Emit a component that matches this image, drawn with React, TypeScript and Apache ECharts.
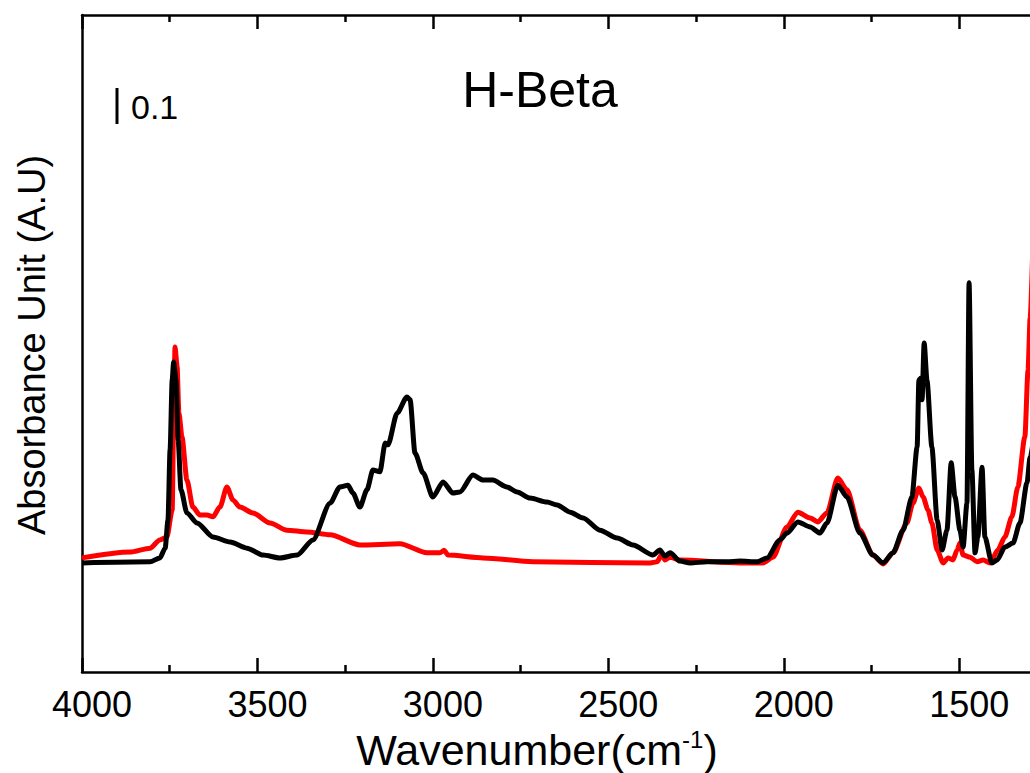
import React, { useEffect, useRef } from "react";
import * as echarts from "echarts";

// Wavenumber (cm-1) / absorbance pairs
const redSpectrum: [number, number][] = [
  [4000, 0.317], [3863, 0.333], [3806, 0.344], [3778, 0.367], [3758, 0.375],
  [3743, 0.45], [3738, 0.75], [3735, 0.903], [3729, 0.85], [3724, 0.72],
  [3715, 0.653], [3701, 0.533], [3684, 0.458], [3664, 0.436], [3644, 0.436],
  [3627, 0.431], [3607, 0.458], [3587, 0.514], [3570, 0.478], [3550, 0.458],
  [3513, 0.442], [3464, 0.414], [3416, 0.394], [3359, 0.389], [3293, 0.381],
  [3208, 0.353], [3094, 0.356], [3017, 0.331], [2980, 0.331], [2968, 0.338],
  [2957, 0.325], [2857, 0.317], [2715, 0.306], [2381, 0.303], [2361, 0.306],
  [2347, 0.328], [2339, 0.311], [2324, 0.319], [2296, 0.311], [2125, 0.303],
  [2059, 0.303], [2031, 0.319], [1991, 0.403], [1960, 0.444], [1925, 0.428],
  [1903, 0.417], [1877, 0.442], [1846, 0.539], [1820, 0.506], [1783, 0.394],
  [1746, 0.325], [1717, 0.3], [1689, 0.331], [1649, 0.414], [1632, 0.469],
  [1615, 0.511], [1603, 0.486], [1589, 0.45], [1578, 0.414], [1563, 0.339],
  [1546, 0.303], [1532, 0.317], [1518, 0.311], [1506, 0.339], [1498, 0.358],
  [1489, 0.325], [1469, 0.319], [1449, 0.306], [1432, 0.311], [1412, 0.303],
  [1390, 0.339], [1370, 0.375], [1350, 0.431], [1333, 0.514], [1313, 0.653],
  [1304, 0.839], [1298, 0.983], [1287, 1.3],
];

const blackSpectrum: [number, number][] = [
  [4000, 0.303], [3806, 0.306], [3778, 0.317], [3763, 0.344], [3755, 0.422],
  [3749, 0.617], [3743, 0.811], [3739, 0.861], [3732, 0.811], [3726, 0.644],
  [3718, 0.506], [3701, 0.442], [3672, 0.414], [3627, 0.375], [3578, 0.361],
  [3530, 0.344], [3484, 0.325], [3436, 0.317], [3387, 0.325], [3342, 0.367],
  [3293, 0.469], [3265, 0.514], [3242, 0.519], [3228, 0.497], [3208, 0.458],
  [3188, 0.506], [3171, 0.561], [3151, 0.556], [3136, 0.636], [3128, 0.631],
  [3102, 0.719], [3074, 0.764], [3065, 0.756], [3051, 0.608], [3028, 0.553],
  [3000, 0.486], [2971, 0.528], [2943, 0.497], [2923, 0.5], [2886, 0.547],
  [2857, 0.533], [2829, 0.533], [2789, 0.514], [2760, 0.5], [2723, 0.483],
  [2675, 0.472], [2646, 0.464], [2609, 0.444], [2572, 0.428], [2524, 0.394],
  [2475, 0.372], [2430, 0.353], [2373, 0.325], [2353, 0.339], [2339, 0.322],
  [2324, 0.331], [2296, 0.308], [2267, 0.303], [2219, 0.306], [2162, 0.306],
  [2125, 0.308], [2076, 0.306], [2048, 0.317], [2011, 0.367], [1991, 0.386],
  [1960, 0.417], [1925, 0.403], [1897, 0.386], [1877, 0.414], [1846, 0.519],
  [1820, 0.486], [1783, 0.386], [1746, 0.325], [1717, 0.303], [1689, 0.331],
  [1660, 0.394], [1635, 0.486], [1620, 0.625], [1615, 0.811], [1609, 0.817],
  [1606, 0.756], [1600, 0.914], [1592, 0.811], [1578, 0.625], [1563, 0.422],
  [1549, 0.339], [1535, 0.394], [1523, 0.581], [1512, 0.486], [1498, 0.394],
  [1489, 0.347], [1478, 0.469], [1472, 1.081], [1464, 0.561], [1455, 0.331],
  [1447, 0.375], [1435, 0.569], [1427, 0.375], [1407, 0.303], [1392, 0.311],
  [1370, 0.347], [1347, 0.358], [1327, 0.414], [1307, 0.525], [1298, 0.597],
  [1270, 0.811],
];

const xMin = 1000;
const xMax = 4000;
const xInterval = 500;
const yMin = 0;
const yMax = 1.825;

const titleText = "H-Beta";
const scaleText = "0.1";
const yAxisTitle = "Absorbance Unit (A.U)";

const FONT = "'Liberation Sans', Arial, sans-serif";

export default function App() {
  const ref = useRef<HTMLDivElement>(null);

  useEffect(() => {
    if (!ref.current) return;
    const chart = echarts.init(ref.current, undefined, { renderer: "svg" });
    const axisCommon = {
      type: "value" as const,
      min: xMin,
      max: xMax,
      interval: xInterval,
      inverse: true,
      axisLine: { show: true, lineStyle: { color: "#000", width: 2.5 } },
      axisTick: { show: true, inside: true, length: 14, lineStyle: { color: "#000", width: 2.5 } },
      minorTick: { show: true, splitNumber: 2, length: 7, lineStyle: { color: "#000", width: 2.5 } },
      splitLine: { show: false },
      minorSplitLine: { show: false },
    };
    chart.setOption({
      animation: false,
      backgroundColor: "#fff",
      textStyle: { fontFamily: FONT },
      grid: { left: 82, top: 15, width: 1052.7, height: 657, outerBoundsMode: "none", containLabel: false },
      xAxis: [
        {
          ...axisCommon,
          position: "bottom",
          axisLabel: {
            show: true,
            color: "#000",
            fontSize: 36,
            fontFamily: FONT,
            margin: 14,
            padding: [0, 0, 0, 20],
            formatter: (v: number) => (v <= 1000 ? "" : String(v)),
          },
        },
        {
          ...axisCommon,
          position: "top",
          axisLabel: { show: false },
        },
      ],
      yAxis: {
        type: "value",
        min: yMin,
        max: yMax,
        axisLine: { show: true, lineStyle: { color: "#000", width: 2.5 } },
        axisTick: { show: false },
        axisLabel: { show: false },
        splitLine: { show: false },
      },
      series: [
        {
          type: "line",
          data: redSpectrum,
          xAxisIndex: 0,
          showSymbol: false,
          smooth: 0.25,
          smoothMonotone: "x",
          clip: true,
          lineStyle: { color: "#ff0000", width: 5 },
        },
        {
          type: "line",
          data: blackSpectrum,
          xAxisIndex: 0,
          showSymbol: false,
          smooth: 0.25,
          smoothMonotone: "x",
          clip: true,
          lineStyle: { color: "#000000", width: 5 },
        },
      ],
      graphic: [
        {
          type: "text",
          x: 540,
          y: 90,
          style: {
            text: titleText,
            fontSize: 50,
            fontFamily: FONT,
            fill: "#000",
            align: "center",
            verticalAlign: "middle",
          },
        },
        {
          type: "line",
          shape: { x1: 117, y1: 88, x2: 117, y2: 124 },
          style: { stroke: "#000", lineWidth: 3 },
        },
        {
          type: "text",
          x: 131,
          y: 107,
          style: {
            text: scaleText,
            fontSize: 34,
            fontFamily: FONT,
            fill: "#000",
            align: "left",
            verticalAlign: "middle",
          },
        },
        {
          type: "text",
          x: 32,
          y: 345,
          rotation: Math.PI / 2,
          style: {
            text: yAxisTitle,
            fontSize: 38,
            fontFamily: FONT,
            fill: "#000",
            align: "center",
            verticalAlign: "middle",
          },
        },
        {
          type: "text",
          x: 537,
          y: 748,
          style: {
            text: "{a|Wavenumber(cm}{s|-1}{a|)}",
            fontFamily: FONT,
            fill: "#000",
            align: "center",
            verticalAlign: "middle",
            rich: {
              a: { fontSize: 43, fontFamily: FONT, fill: "#000", lineHeight: 46, verticalAlign: "bottom" },
              s: { fontSize: 24, fontFamily: FONT, fill: "#000", lineHeight: 46, verticalAlign: "top", padding: [2, 0, 0, 0] },
            },
          },
        },
      ],
    });
    return () => chart.dispose();
  }, []);

  return (
    <div
      style={{
        position: "fixed",
        left: 0,
        top: 0,
        width: 1030,
        height: 773,
        overflow: "hidden",
        background: "#fff",
      }}
    >
      <div ref={ref} style={{ width: 1140, height: 773 }} />
    </div>
  );
}
